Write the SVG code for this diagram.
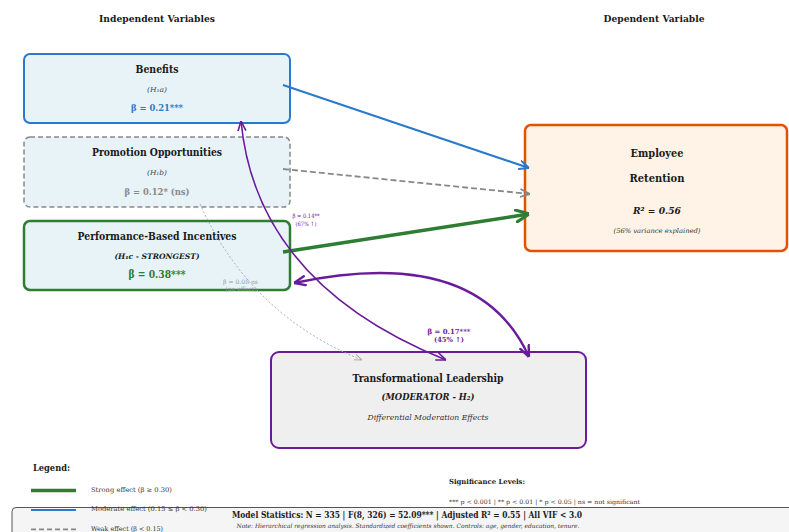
<svg xmlns="http://www.w3.org/2000/svg" width="789" height="532" viewBox="0 0 789 532">
<defs>
<style>
text{font-family:"DejaVu Serif","Liberation Serif",serif;fill:#1a1a1a}
.b{font-weight:bold}
.i{font-style:italic}
.m{text-anchor:middle}
.box{stroke-width:2}
</style>
<marker id="hBlue" viewBox="0 0 10 10" refX="10" refY="5" markerWidth="10" markerHeight="10" markerUnits="userSpaceOnUse" orient="auto"><path d="M0,0.5 L10,5 L0,9.5" fill="none" stroke="#2979cc" stroke-width="2"/></marker>
<marker id="hGray" viewBox="0 0 10 10" refX="10" refY="5" markerWidth="10" markerHeight="10" markerUnits="userSpaceOnUse" orient="auto"><path d="M0,1 L10,5 L0,9" fill="none" stroke="#888" stroke-width="1.8"/></marker>
<marker id="hGreen" viewBox="0 0 14 14" refX="14" refY="7" markerWidth="14" markerHeight="14" markerUnits="userSpaceOnUse" orient="auto"><path d="M0,0.5 L14,7 L0,13.5" fill="none" stroke="#2e7d32" stroke-width="3.2"/></marker>
<marker id="hPurple" viewBox="0 0 10 10" refX="10" refY="5" markerWidth="10" markerHeight="10" markerUnits="userSpaceOnUse" orient="auto-start-reverse"><path d="M0,1 L10,5 L0,9" fill="none" stroke="#6a1b9a" stroke-width="1.6"/></marker>
<marker id="hPurpleT" viewBox="0 0 12 12" refX="12" refY="6" markerWidth="12" markerHeight="12" markerUnits="userSpaceOnUse" orient="auto-start-reverse"><path d="M0,1 L12,6 L0,11" fill="none" stroke="#6a1b9a" stroke-width="2.4"/></marker>
<marker id="hDot" viewBox="0 0 8 8" refX="8" refY="4" markerWidth="8" markerHeight="8" markerUnits="userSpaceOnUse" orient="auto"><path d="M0,1 L8,4 L0,7" fill="none" stroke="#aaa" stroke-width="1"/></marker>
</defs>
<rect width="789" height="532" fill="#fff"/>

<text class="b m" x="157" y="21.5" font-size="9.5" textLength="116" lengthAdjust="spacingAndGlyphs">Independent Variables</text>
<text class="b m" x="654" y="21.5" font-size="9.5" textLength="101" lengthAdjust="spacingAndGlyphs">Dependent Variable</text>

<g id="benefits">
<rect class="box" x="24" y="54" width="266" height="69" rx="6" fill="#e8f3f8" stroke="#2979cc"/>
<text class="b m" x="157" y="72.5" font-size="10.5" textLength="43" lengthAdjust="spacingAndGlyphs">Benefits</text>
<text class="i m" x="157" y="91.5" font-size="7" fill="#444" style="fill:#444" textLength="20" lengthAdjust="spacingAndGlyphs">(H₁a)</text>
<text class="b m" x="157" y="110.5" font-size="10" style="fill:#2979cc" textLength="52" lengthAdjust="spacingAndGlyphs">β = 0.21***</text>
</g>

<g id="promotion">
<rect x="24" y="137" width="266" height="70" rx="6" fill="#e8f3f8" stroke="#888" stroke-width="1.5" stroke-dasharray="5,3"/>
<text class="b m" x="157" y="156" font-size="10.5" textLength="130" lengthAdjust="spacingAndGlyphs">Promotion Opportunities</text>
<text class="i m" x="157" y="175" font-size="7" style="fill:#444" textLength="20" lengthAdjust="spacingAndGlyphs">(H₁b)</text>
<text class="b m" x="157" y="195" font-size="10" style="fill:#888" textLength="65" lengthAdjust="spacingAndGlyphs">β = 0.12* (ns)</text>
</g>

<g id="performance">
<rect x="24" y="221" width="266" height="69" rx="6" fill="#e8f3f8" stroke="#2e7d32" stroke-width="2.5"/>
<text class="b m" x="157" y="239.5" font-size="10.5" textLength="159" lengthAdjust="spacingAndGlyphs">Performance-Based Incentives</text>
<text class="b i m" x="157" y="259" font-size="7.5" textLength="85" lengthAdjust="spacingAndGlyphs">(H₁c - STRONGEST)</text>
<text class="b m" x="157" y="278" font-size="11" style="fill:#2e7d32" textLength="57" lengthAdjust="spacingAndGlyphs">β = 0.38***</text>
</g>

<g id="retention">
<rect x="525" y="125" width="262" height="126" rx="6" fill="#fef3e6" stroke="#e65100" stroke-width="2.5"/>
<text class="b m" x="657" y="156.5" font-size="10.5" textLength="53" lengthAdjust="spacingAndGlyphs">Employee</text>
<text class="b m" x="657" y="181.5" font-size="10.5" textLength="55" lengthAdjust="spacingAndGlyphs">Retention</text>
<text class="b i m" x="657" y="213.5" font-size="10" textLength="48" lengthAdjust="spacingAndGlyphs">R² = 0.56</text>
<text class="i m" x="657" y="233" font-size="6.5" style="fill:#333" textLength="87" lengthAdjust="spacingAndGlyphs">(56% variance explained)</text>
</g>

<g id="leadership">
<rect x="271" y="352" width="315" height="96" rx="8" fill="#efefef" stroke="#6a1b9a" stroke-width="2"/>
<text class="b m" x="428" y="381.5" font-size="10.5" textLength="151" lengthAdjust="spacingAndGlyphs">Transformational Leadership</text>
<text class="b i m" x="428" y="400" font-size="9" textLength="93" lengthAdjust="spacingAndGlyphs">(MODERATOR - H₂)</text>
<text class="i m" x="428" y="420" font-size="8" style="fill:#333" textLength="121" lengthAdjust="spacingAndGlyphs">Differential Moderation Effects</text>
</g>

<g id="connectors" fill="none">
<line x1="283" y1="85" x2="529" y2="168" stroke="#2979cc" stroke-width="2" marker-end="url(#hBlue)"/>
<line x1="283" y1="169" x2="530" y2="194" stroke="#888" stroke-width="1.8" stroke-dasharray="6,3" marker-end="url(#hGray)"/>
<line x1="283" y1="252" x2="529" y2="214" stroke="#2e7d32" stroke-width="3.5" marker-end="url(#hGreen)"/>
<path d="M200,204 Q250,315 362,360" stroke="#aaa" stroke-width="1" stroke-dasharray="2,2" marker-end="url(#hDot)"/>
<path d="M241,121 Q256.5,283.5 446,360" stroke="#6a1b9a" stroke-width="1.6" marker-start="url(#hPurple)" marker-end="url(#hPurple)"/>
<path d="M294,283 Q478,244 529,357" stroke="#6a1b9a" stroke-width="2.4" marker-start="url(#hPurpleT)" marker-end="url(#hPurpleT)"/>
<text class="m" x="306" y="218" font-size="6" style="fill:#6a1b9a" textLength="27" lengthAdjust="spacingAndGlyphs">β = 0.14**</text>
<text class="m" x="306" y="226.3" font-size="6" style="fill:#6a1b9a" textLength="21" lengthAdjust="spacingAndGlyphs">(67% ↑)</text>
<text class="m" x="240.5" y="284" font-size="6" style="fill:#999" textLength="35" lengthAdjust="spacingAndGlyphs">β = 0.08 ns</text>
<text class="m" x="241" y="290.5" font-size="6" style="fill:#999" textLength="31" lengthAdjust="spacingAndGlyphs">(no effect)</text>
<text class="b m" x="449" y="333.5" font-size="7" style="fill:#6a1b9a" textLength="43" lengthAdjust="spacingAndGlyphs">β = 0.17***</text>
<text class="b m" x="449" y="342" font-size="7" style="fill:#6a1b9a" textLength="30" lengthAdjust="spacingAndGlyphs">(45% ↑)</text>
</g>

<g id="stats">
<rect x="12" y="507.5" width="800" height="40" rx="4" fill="#f5f5f5" stroke="#555" stroke-width="1"/>
<text class="b m" x="407" y="517.5" font-size="9" textLength="350" lengthAdjust="spacingAndGlyphs">Model Statistics: N = 335 | F(8, 326) = 52.09*** | Adjusted R² = 0.55 | All VIF &lt; 3.0</text>
<text class="i m" x="408" y="528.3" font-size="6" style="fill:#333" textLength="343" lengthAdjust="spacingAndGlyphs">Note: Hierarchical regression analysis. Standardized coefficients shown. Controls: age, gender, education, tenure.</text>
</g>

<g id="legend">
<text class="b" x="33" y="471" font-size="9" textLength="37" lengthAdjust="spacingAndGlyphs">Legend:</text>
<line x1="31" y1="490.5" x2="76" y2="490.5" stroke="#2e7d32" stroke-width="3.5"/>
<text x="91" y="492.3" font-size="6.5" style="fill:#333" textLength="81" lengthAdjust="spacingAndGlyphs">Strong effect (β ≥ 0.30)</text>
<line x1="31" y1="510" x2="76" y2="510" stroke="#2979cc" stroke-width="2"/>
<text x="91" y="511" font-size="6.5" style="fill:#333" textLength="116" lengthAdjust="spacingAndGlyphs">Moderate effect (0.15 ≤ β &lt; 0.30)</text>
<line x1="31" y1="529.3" x2="76" y2="529.3" stroke="#888" stroke-width="1.8" stroke-dasharray="5,3"/>
<text x="91" y="531" font-size="6.5" style="fill:#333" textLength="72" lengthAdjust="spacingAndGlyphs">Weak effect (β &lt; 0.15)</text>
</g>

<g id="significance">
<text class="b" x="449" y="483.5" font-size="7" textLength="76" lengthAdjust="spacingAndGlyphs">Significance Levels:</text>
<text x="449" y="503.5" font-size="6" style="fill:#333" textLength="191" lengthAdjust="spacingAndGlyphs">*** p &lt; 0.001  |  ** p &lt; 0.01  |  * p &lt; 0.05  |  ns = not significant</text>
</g>
</svg>
